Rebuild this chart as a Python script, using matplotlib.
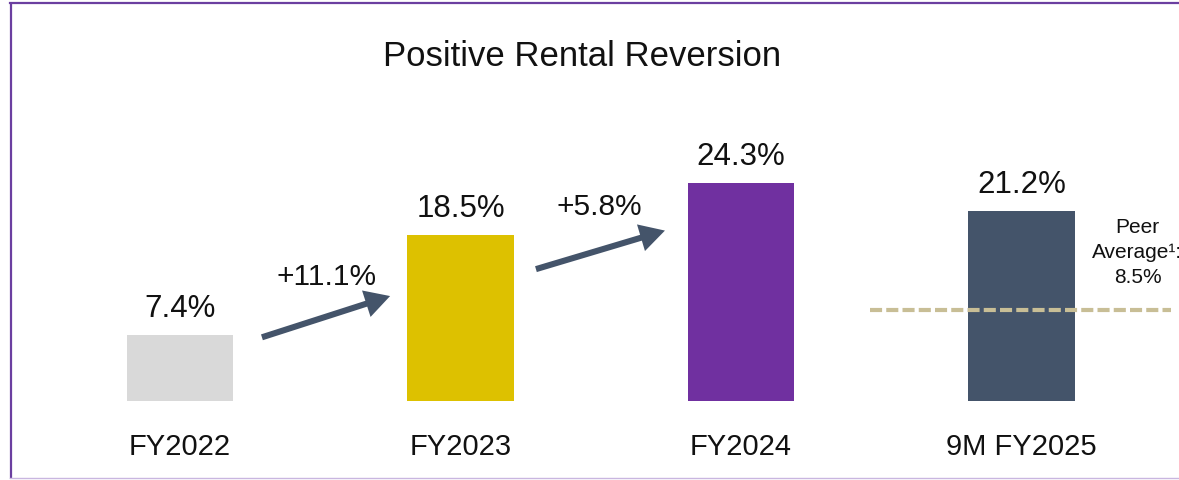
import matplotlib.pyplot as plt
from matplotlib.lines import Line2D

# 字体设置 - Arial 同款度量
plt.rcParams['font.family'] = ['Liberation Sans', 'DejaVu Sans']

# 数据
categories = ['FY2022', 'FY2023', 'FY2024', '9M FY2025']
reversion = [7.4, 18.5, 24.3, 21.2]
increments = ['+11.1%', '+5.8%']
peer_average = 8.5
peer_line_level = 10.1  # 虚线在图中的实际高度

bar_colors = ['#D9D9D9', '#DDC100', '#7030A0', '#44546A']
arrow_color = '#44546A'
peer_color = '#C8BE96'
frame_color = '#6B3FA0'


def draw_chart():
    fig = plt.figure(figsize=(11.79, 4.81), dpi=100)
    ax = fig.add_axes([0, 0, 1, 1])
    ax.set_xlim(-0.642, 3.562)
    ax.set_ylim(-8.81, 44.82)
    ax.axis('off')

    x_pos = list(range(len(categories)))

    # 柱子
    ax.bar(x_pos, reversion, width=0.381, color=bar_colors, zorder=2)

    # 柱顶数值 & 横轴标签
    for x, v, lab in zip(x_pos, reversion, categories):
        ax.annotate(f'{v:.1f}%', xy=(x, v), xytext=(0, 13.5), textcoords='offset points',
                    ha='center', va='baseline', fontsize=22.5, color='#111111')
        ax.annotate(lab, xy=(x, 0), xytext=(0, -38.3), textcoords='offset points',
                    ha='center', va='baseline', fontsize=21, color='#111111')

    # 增长箭头
    arrow_pos = [((0.292, 7.1), (0.749, 11.7)), ((1.269, 14.7), (1.729, 19.0))]
    label_pos = [(0.524, 13.0), (1.496, 20.8)]
    for (start, end), (lx, ly), txt in zip(arrow_pos, label_pos, increments):
        ax.annotate('', xy=end, xytext=start,
                    arrowprops=dict(arrowstyle='simple,head_length=0.9,head_width=1.0,tail_width=0.22',
                                    mutation_scale=20, color=arrow_color, lw=0,
                                    shrinkA=0, shrinkB=0))
        ax.text(lx, ly, txt, ha='center', va='baseline', fontsize=21.5, color='#111111')

    # 同行平均线
    last = x_pos[-1]
    ax.plot([last - 0.54, last + 0.535], [peer_line_level, peer_line_level],
            color=peer_color, lw=3, dashes=(2.9, 1.0), solid_capstyle='butt', zorder=3)
    ax.text(last + 0.414, 13.3, f'Peer\nAverage\u00b9:\n{peer_average}%', ha='center', va='baseline',
            fontsize=15, linespacing=1.38, color='#111111')

    # 标题
    fig.text(0.4936, 0.8628, 'Positive Rental Reversion', ha='center', va='baseline',
             fontsize=25, color='#111111')

    # 外框
    W, H = 1179, 481
    fig.add_artist(Line2D([10 / W, 1], [1 - 3.5 / H, 1 - 3.5 / H], color=frame_color, lw=1.6,
                          transform=fig.transFigure))
    fig.add_artist(Line2D([11 / W, 11 / W], [1 - 3.5 / H, 1.5 / H], color=frame_color, lw=1.6,
                          solid_capstyle='butt', transform=fig.transFigure))
    fig.add_artist(Line2D([10 / W, 1], [1.8 / H, 1.8 / H], color='#C9B6E0', lw=1.0,
                          transform=fig.transFigure))

    plt.savefig('out.png', dpi=100)


if __name__ == "__main__":
    draw_chart()
